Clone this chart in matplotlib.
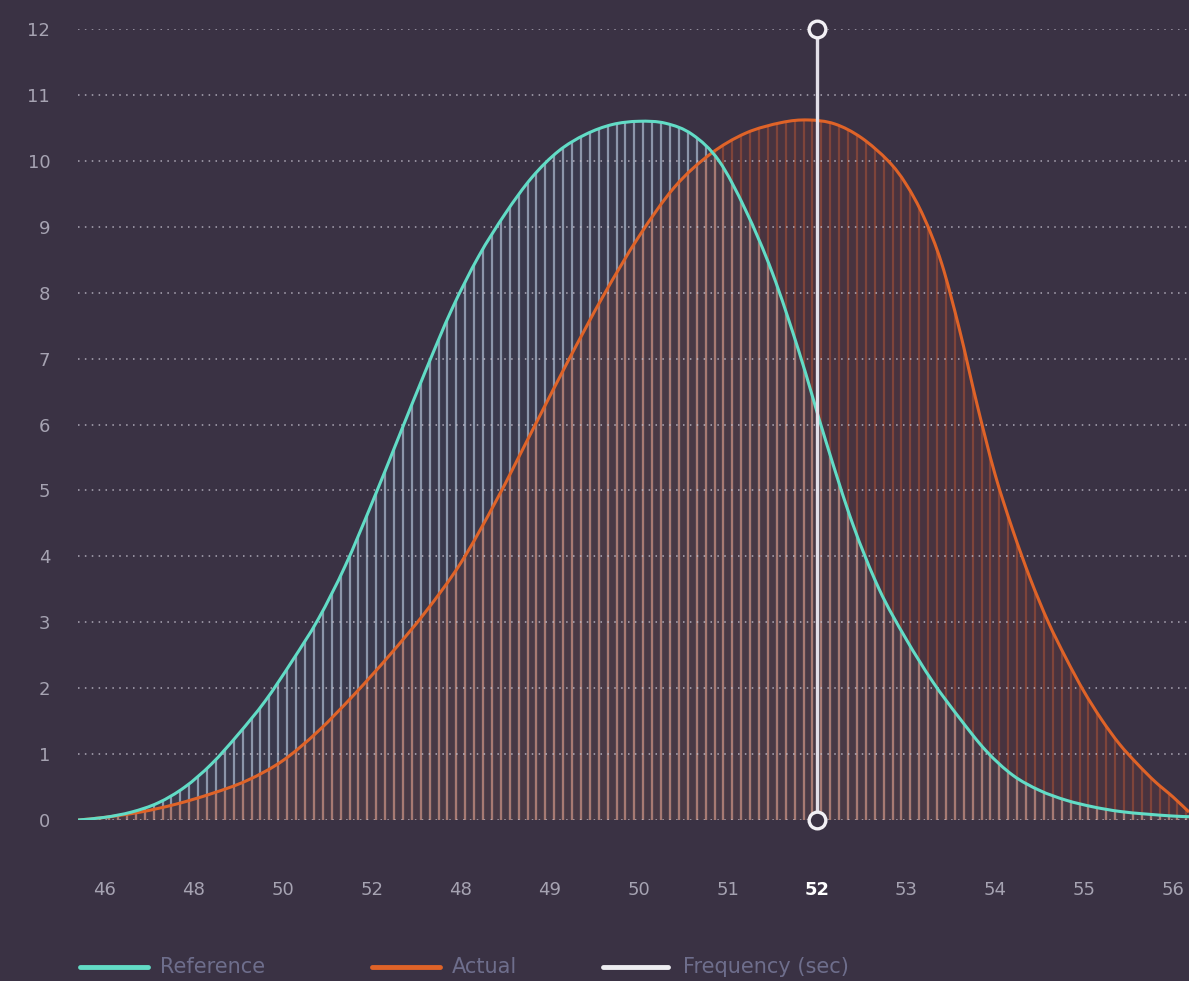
import numpy as np
import matplotlib.pyplot as plt
from matplotlib.lines import Line2D
from matplotlib.path import Path
from matplotlib.patches import PathPatch

# x positions are in tick-slot units (0 = first tick label)
ref_x = [-0.30, 0.0, 0.3, 0.6, 0.9, 1.2, 1.5, 1.8, 2.1, 2.4, 2.7, 3.0, 3.3, 3.6, 3.9, 4.2,
         4.5, 4.8, 5.1, 5.4, 5.7, 6.0, 6.3, 6.6, 6.9, 7.2, 7.5, 7.8, 8.1, 8.4, 8.7, 9.0,
         9.3, 9.6, 9.9, 10.2, 10.5, 10.8, 11.1, 11.4, 11.7, 12.0, 12.18]
ref_y = [0.0, 0.04, 0.12, 0.26, 0.50, 0.85, 1.30, 1.80, 2.40, 3.05, 3.85, 4.80, 5.80, 6.80,
         7.75, 8.55, 9.20, 9.75, 10.15, 10.40, 10.55, 10.60, 10.57, 10.40, 10.0, 9.25, 8.30,
         7.10, 5.75, 4.50, 3.50, 2.75, 2.10, 1.55, 1.05, 0.68, 0.45, 0.30, 0.20, 0.13, 0.09,
         0.06, 0.05]

act_x = [-0.30, 0.0, 0.4, 0.8, 1.2, 1.6, 2.0, 2.4, 2.8, 3.2, 3.6, 4.0, 4.4, 4.8, 5.2, 5.6,
         6.0, 6.4, 6.8, 7.2, 7.6, 7.9, 8.2, 8.5, 8.8, 9.0, 9.2, 9.4, 9.6, 9.8, 10.0, 10.2,
         10.4, 10.6, 10.8, 11.0, 11.2, 11.4, 11.6, 11.8, 12.0, 12.18]
act_y = [0.0, 0.04, 0.12, 0.24, 0.40, 0.60, 0.90, 1.35, 1.90, 2.50, 3.15, 3.90, 4.85, 5.90,
         6.95, 7.95, 8.85, 9.60, 10.10, 10.42, 10.58, 10.62, 10.56, 10.35, 10.0, 9.65, 9.15,
         8.45, 7.45, 6.30, 5.25, 4.40, 3.65, 3.00, 2.45, 1.95, 1.52, 1.15, 0.85, 0.58, 0.35,
         0.12]

x_labels = ['46', '48', '50', '52', '48', '49', '50', '51', '52', '53', '54', '55', '56']
y_ticks = list(range(0, 13))
marker_x = 8  # highlighted slot ("52")

bg = '#3a3244'
teal = '#62dcc6'
orange = '#df6328'
tick_col = '#a6a3b2'


def smooth_path(xs, ys, close=False):
    # Catmull-Rom curve through the points, drawn as cubic Bezier segments
    p = np.column_stack([xs, ys])
    ext = np.vstack([p[0], p, p[-1]])
    verts = [p[0]]
    codes = [Path.MOVETO]
    for i in range(len(p) - 1):
        p0, p1, p2, p3 = ext[i], ext[i + 1], ext[i + 2], ext[i + 3]
        verts += [p1 + (p2 - p0) / 6, p2 - (p3 - p1) / 6, p2]
        codes += [Path.CURVE4] * 3
    if close:
        verts += [(xs[-1], 0), (xs[0], 0), p[0]]
        codes += [Path.LINETO, Path.LINETO, Path.CLOSEPOLY]
    return Path(verts, codes)


fig = plt.figure(figsize=(11.89, 9.81), dpi=100, facecolor=bg)
ax = fig.add_axes([78 / 1189, 161 / 981, 1 - 78 / 1189, 791 / 981])
ax.set_facecolor(bg)
ax.set_xlim(-0.30, 12.18)
ax.set_ylim(0, 12)

# areas with vertical stripes clipped to them
hx = np.arange(-0.25, 12.18, 0.1)
for xs, ys, fill_c, fill_a, line_c, line_a, z in [
        (ref_x, ref_y, '#3f6f8a', 0.12, '#b8c8dc', 0.66, 2),
        (act_x, act_y, '#7a3a30', 0.22, '#c45a34', 0.45, 3)]:
    area = PathPatch(smooth_path(xs, ys, close=True), facecolor=fill_c, alpha=fill_a,
                     lw=0, zorder=1)
    ax.add_patch(area)
    stripes = ax.vlines(hx, 0, 12, color=line_c, lw=1.6, alpha=line_a, zorder=z)
    stripes.set_clip_path(area)

for v in y_ticks:
    ax.axhline(v, color='#c9c5d2', lw=1.1, ls=(0, (1, 3.5)), alpha=0.8, zorder=4)

ax.add_patch(PathPatch(smooth_path(act_x, act_y), fill=False, edgecolor=orange, lw=2.2,
                       zorder=5))
ax.add_patch(PathPatch(smooth_path(ref_x, ref_y), fill=False, edgecolor=teal, lw=2.2,
                       zorder=6))

ax.plot([marker_x, marker_x], [0, 12], color='#e2dfe8', lw=2.4, zorder=7, clip_on=False)
ax.plot([marker_x, marker_x], [0, 12], ls='none', marker='o', ms=12, mfc=bg,
        mec='#f2f0f5', mew=2.4, zorder=8, clip_on=False)

for s in ax.spines.values():
    s.set_visible(False)
ax.tick_params(length=0)
ax.set_yticks(y_ticks)
ax.set_yticklabels([str(v) for v in y_ticks], color=tick_col, fontsize=13)
ax.tick_params(axis='y', pad=20)
ax.set_xticks(range(len(x_labels)))
ax.set_xticklabels(x_labels, color=tick_col, fontsize=13)
ax.tick_params(axis='x', pad=44)
for i, t in enumerate(ax.get_xticklabels()):
    if i == marker_x:
        t.set_color('white')
        t.set_fontweight('bold')

# legend along the bottom edge
leg_y = 14 / 981
items = [(80, 148, 160, teal, 'Reference'),
         (372, 440, 452, orange, 'Actual'),
         (603, 668, 683, '#eeeef2', 'Frequency (sec)')]
for x0, x1, xt, c, name in items:
    fig.add_artist(Line2D([x0 / 1189, x1 / 1189], [leg_y, leg_y], color=c, lw=3.5,
                          solid_capstyle='round', transform=fig.transFigure))
    fig.text(xt / 1189, leg_y, name, color='#6e6e8c', fontsize=15, va='center', ha='left')

fig.savefig('out.png', dpi=100, facecolor=bg)
